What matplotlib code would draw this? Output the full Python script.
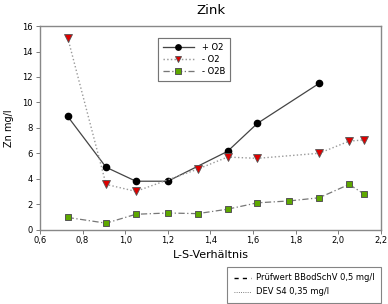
import matplotlib
matplotlib.use('Agg')
import matplotlib.pyplot as plt
from matplotlib.lines import Line2D
from matplotlib.ticker import FuncFormatter

# Data
x_plus = [0.73, 0.91, 1.05, 1.20, 1.48, 1.62, 1.91]
y_plus = [8.9, 4.9, 3.8, 3.8, 6.15, 8.35, 11.5]

x_minus = [0.73, 0.91, 1.05, 1.34, 1.48, 1.62, 1.91, 2.05, 2.12]
y_minus = [15.1, 3.55, 3.0, 4.75, 5.7, 5.6, 6.0, 6.95, 7.05]

x_o2b = [0.73, 0.91, 1.05, 1.20, 1.34, 1.48, 1.62, 1.77, 1.91, 2.05, 2.12]
y_o2b = [0.95, 0.5, 1.2, 1.3, 1.25, 1.6, 2.1, 2.25, 2.5, 3.55, 2.8]

ref_labels = ['Prüfwert BBodSchV 0,5 mg/l', 'DEV S4 0,35 mg/l']

fig = plt.figure(figsize=(3.88, 3.04), dpi=100)
ax = fig.add_axes([0.103, 0.245, 0.879, 0.669])

l1, = ax.plot(x_plus, y_plus, '-', color='#444444', lw=0.9,
              marker='o', ms=4.5, mfc='black', mec='black', label='+ O2', zorder=3)
l2, = ax.plot(x_minus, y_minus, ':', color='#999999', lw=1.0,
              marker='v', ms=5.5, mfc='#dd0000', mec='#555555', mew=0.6, label='- O2', zorder=4)
l3, = ax.plot(x_o2b, y_o2b, '-.', color='#777777', lw=0.9, dashes=[5, 2, 1, 2],
              marker='s', ms=4.5, mfc='#5ea800', mec='#555555', mew=0.7, label='- O2B', zorder=3)

ax.set_xlim(0.6, 2.2)
ax.set_ylim(0, 16)
ax.set_xticks([0.6, 0.8, 1.0, 1.2, 1.4, 1.6, 1.8, 2.0, 2.2])
ax.set_yticks(range(0, 17, 2))
ax.xaxis.set_major_formatter(FuncFormatter(lambda v, p: f'{v:.1f}'.replace('.', ',')))
ax.tick_params(labelsize=6, length=3, width=0.6, color='#666666', direction='out', pad=2)
for s in ax.spines.values():
    s.set_color('#888888')
    s.set_linewidth(1.0)

ax.set_title('Zink', fontsize=9.5, pad=9)
ax.set_xlabel('L-S-Verhältnis', fontsize=8, labelpad=3)
ax.set_ylabel('Zn mg/l', fontsize=7, labelpad=6)

leg1 = ax.legend(handles=[l1, l2, l3], loc='upper left', bbox_to_anchor=(0.345, 0.94),
                 fontsize=6, frameon=True, fancybox=False, edgecolor='#666666',
                 handlelength=3.8, borderpad=0.6, labelspacing=0.35, borderaxespad=0,
                 markerscale=0.85, handletextpad=0.9)
leg1.get_frame().set_linewidth(0.8)
ax.add_artist(leg1)

ref_handles = [Line2D([], [], color='black', lw=1.0, dashes=[3, 3]),
               Line2D([], [], color='#555555', lw=0.6, ls=':')]
leg2 = fig.legend(ref_handles, ref_labels, loc='lower right', bbox_to_anchor=(0.982, 0.003),
                  fontsize=6, frameon=True, fancybox=False, edgecolor='#666666',
                  handlelength=2.0, borderpad=0.8, labelspacing=0.6, borderaxespad=0,
                  handletextpad=0.6)
leg2.get_frame().set_linewidth(0.8)

fig.savefig('out.png', dpi=100)
